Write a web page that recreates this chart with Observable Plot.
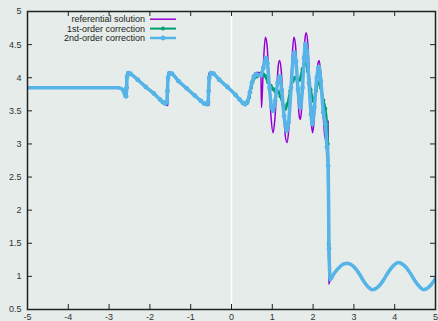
<!DOCTYPE html>
<html><head><meta charset="utf-8">
<script src="https://cdn.jsdelivr.net/npm/d3@7"></script>
<script src="https://cdn.jsdelivr.net/npm/@observablehq/plot@0.6"></script>
<style>html,body{margin:0;padding:0;background:#e5ecea;}</style>
</head><body><div id="chart"></div>
<script>
// ---- data ----
const xTicks = [-5,-4,-3,-2,-1,0,1,2,3,4,5];
const yTicks = [0.5,1,1.5,2,2.5,3,3.5,4,4.5,5];
const legendLabels = ["referential solution","1st-order correction","2nd-order correction"];

// referential solution: sawtooth part (sharp jumps)
const refSawX = [-5,-4,-3,-2.8,-2.7,-2.65,-2.62,-2.595,-2.578,-2.575,-2.54,-2.48,-2.3,-2.1,-1.9,-1.75,-1.65,-1.565,-1.562,-1.52,-1.46,-1.3,-1.1,-0.9,-0.75,-0.64,-0.555,-0.552,-0.5,-0.44,-0.3,-0.1,0.1,0.2,0.28];
const refSawY = [3.85,3.85,3.85,3.848,3.835,3.80,3.75,3.71,3.70,4.08,4.08,4.06,3.97,3.86,3.76,3.67,3.61,3.58,4.07,4.08,4.06,3.95,3.84,3.73,3.65,3.60,3.58,4.07,4.08,4.06,3.97,3.86,3.74,3.67,3.62];
// referential solution: oscillation part
const refOscX = [0.33,0.38,0.43,0.47,0.51,0.55,0.6,0.66,0.72,0.735,0.76,0.79,0.83,0.87,0.92,0.97,1.02,1.06,1.11,1.15,1.18,1.22,1.27,1.32,1.36,1.40,1.45,1.49,1.53,1.57,1.62,1.66,1.69,1.72,1.77,1.80,1.83,1.87,1.92,1.96,1.99,2.03,2.08,2.12,2.15,2.19,2.24,2.29,2.31,2.35,2.375,2.38];
const refOscY = [3.60,3.61,3.68,3.80,3.94,4.04,4.08,4.08,4.07,3.55,3.85,4.3,4.61,4.5,3.95,3.4,3.17,3.35,3.85,4.2,4.26,4.1,3.55,3.12,3.02,3.2,3.8,4.35,4.61,4.48,3.85,3.42,3.37,3.55,4.2,4.58,4.68,4.52,3.85,3.3,3.17,3.4,3.95,4.22,4.26,4.05,3.5,3.1,3.07,3.2,3.35,0.88];

// smoothed sawtooth shared by the corrections
const smoothX = [-5,-4,-3,-2.8,-2.7,-2.65,-2.62,-2.6,-2.585,-2.57,-2.56,-2.53,-2.48,-2.3,-2.1,-1.9,-1.75,-1.68,-1.62,-1.585,-1.57,-1.555,-1.52,-1.46,-1.3,-1.1,-0.9,-0.75,-0.67,-0.6,-0.575,-0.56,-0.545,-0.5,-0.44,-0.3,-0.1,0.1,0.2,0.28];
const smoothY = [3.85,3.85,3.85,3.848,3.835,3.81,3.77,3.73,3.72,3.85,4.02,4.07,4.06,3.97,3.86,3.76,3.67,3.63,3.61,3.63,3.80,4.00,4.07,4.06,3.95,3.84,3.73,3.65,3.61,3.60,3.63,3.80,4.00,4.07,4.06,3.97,3.86,3.74,3.67,3.62];

// 1st-order correction: oscillation part
const firstOscX = [0.33,0.38,0.43,0.48,0.52,0.56,0.62,0.68,0.75,0.82,0.9,0.96,1.02,1.08,1.14,1.2,1.27,1.32,1.37,1.44,1.5,1.56,1.62,1.67,1.74,1.81,1.87,1.94,2.01,2.07,2.13,2.19,2.25,2.30,2.34,2.36,2.385];
const firstOscY = [3.60,3.62,3.70,3.85,3.95,4.00,4.02,4.04,4.08,4.03,3.93,3.88,3.83,3.79,3.79,3.72,3.58,3.53,3.60,3.80,3.95,4.00,3.95,3.97,4.13,4.22,4.10,3.82,3.65,3.80,3.93,3.85,3.66,3.53,3.28,3.0,1.48];

// 2nd-order correction: oscillation part
const secondOscX = [0.33,0.4,0.45,0.5,0.55,0.6,0.66,0.72,0.78,0.84,0.88,0.93,0.98,1.02,1.07,1.13,1.18,1.23,1.29,1.35,1.40,1.46,1.51,1.54,1.58,1.63,1.69,1.74,1.78,1.81,1.85,1.90,1.95,1.98,2.03,2.09,2.14,2.19,2.25,2.30,2.34,2.37,2.39];
const secondOscY = [3.60,3.65,3.78,3.92,4.02,4.05,4.04,4.04,4.15,4.30,4.22,3.85,3.56,3.50,3.65,3.92,4.02,3.82,3.42,3.20,3.33,3.85,4.30,4.38,4.25,3.82,3.55,3.85,4.30,4.51,4.40,3.92,3.45,3.30,3.55,4.00,4.16,3.95,3.48,3.30,2.95,2.67,1.42];

// tail wave shared by all three
const waveX = [2.42,2.5,2.6,2.7,2.83,2.95,3.05,3.15,3.25,3.35,3.45,3.55,3.65,3.75,3.85,3.95,4.09,4.2,4.3,4.4,4.5,4.6,4.71,4.8,4.9,5.0];
const waveY = [0.95,1.03,1.11,1.17,1.20,1.17,1.11,1.02,0.92,0.84,0.80,0.82,0.88,0.97,1.07,1.15,1.21,1.18,1.12,1.03,0.93,0.85,0.80,0.82,0.88,0.97];

// ---- build tables ----
const rows = (xs, ys) => xs.map((x, i) => ({x, y: ys[i]}));
const ref = [...rows(refSawX, refSawY), ...rows(refOscX, refOscY), ...rows(waveX, waveY)];
const first = [...rows(smoothX, smoothY), ...rows(firstOscX, firstOscY), ...rows(waveX, waveY)];
const second = [...rows(smoothX, smoothY), ...rows(secondOscX, secondOscY), ...rows(waveX, waveY)];
const markable = d => d.x > -2.7 && d.x < 2.41;

const colors = ["#9400d3", "#009e73", "#56b4e9"];
const W = 438, H = 321, mL = 27, mR = 3, mT = 11, mB = 12;
const innerW = W - mL - mR, innerH = H - mT - mB;
const font = "'Liberation Sans', Arial, sans-serif";

const plot = Plot.plot({
  width: W, height: H,
  marginLeft: mL, marginRight: mR, marginTop: mT, marginBottom: mB,
  x: {domain: [-5, 5], label: null},
  y: {domain: [0.5, 5], label: null},
  style: {background: "#e5ecea", fontFamily: font, fontSize: "9px", color: "#333", overflow: "visible"},
  marks: [
    Plot.ruleX([0], {stroke: "white", strokeWidth: 1.5}),
    Plot.line(ref, {x: "x", y: "y", stroke: colors[0], strokeWidth: 1.5, curve: "monotone-x", clip: true}),
    Plot.line(first, {x: "x", y: "y", stroke: colors[1], strokeWidth: 2.5, curve: "monotone-x", clip: true}),
    Plot.dot(first.filter(markable), {x: "x", y: "y", r: 2, fill: colors[1], stroke: "none"}),
    Plot.line(second, {x: "x", y: "y", stroke: colors[2], strokeWidth: 3.5, curve: "monotone-x", clip: true}),
    Plot.dot(second.filter(markable), {x: "x", y: "y", r: 2.4, fill: colors[2], stroke: "none"}),
    Plot.tickX(xTicks, {x: d => d, insetTop: innerH - 5, stroke: "#222"}),
    Plot.tickX(xTicks, {x: d => d, insetBottom: innerH - 5, stroke: "#222"}),
    Plot.tickY(yTicks, {y: d => d, insetRight: innerW - 5, stroke: "#222"}),
    Plot.tickY(yTicks, {y: d => d, insetLeft: innerW - 5, stroke: "#222"}),
    Plot.frame({stroke: "#222", strokeWidth: 1.5}),
    Plot.axisX({ticks: xTicks, tickSize: 0, tickPadding: 4, tickFormat: d => String(d)}),
    Plot.axisY({ticks: yTicks, tickSize: 0, tickPadding: 6, tickFormat: d => String(d)})
  ]
});

// legend inside the plot, top-left
const svg = d3.select(plot);
const leg = svg.append("g").attr("font-family", font).attr("font-size", 9).attr("fill", "#222");
legendLabels.forEach((label, i) => {
  const y = 19.2 + i * 9.4;
  leg.append("text").attr("x", 145).attr("y", y).attr("dy", "0.33em").attr("text-anchor", "end").text(label);
  leg.append("line").attr("x1", 150).attr("x2", 176).attr("y1", y).attr("y2", y)
     .attr("stroke", colors[i]).attr("stroke-width", i === 0 ? 1.5 : i === 1 ? 2 : 2.5);
  if (i > 0) leg.append("circle").attr("cx", 163).attr("cy", y).attr("r", i === 1 ? 2 : 2.4).attr("fill", colors[i]);
});

document.getElementById("chart").appendChild(plot);
</script>
</body></html>
